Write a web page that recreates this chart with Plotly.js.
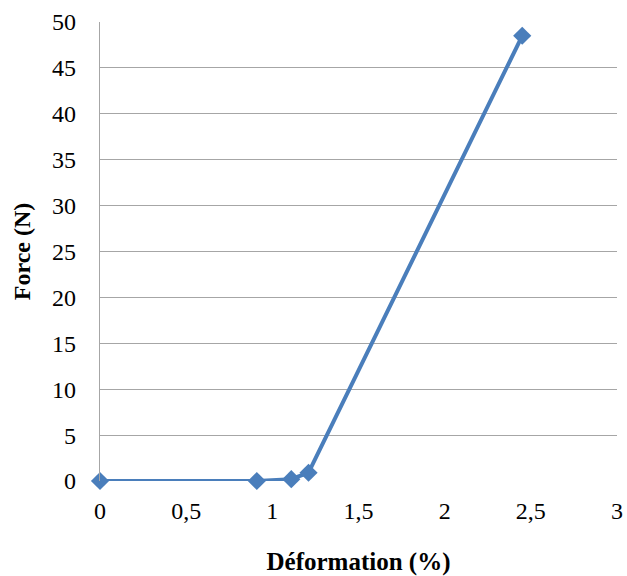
<!DOCTYPE html>
<html><head><meta charset="utf-8">
<script src="https://cdn.plot.ly/plotly-3.0.1.min.js"></script>
<style>html,body{margin:0;padding:0;background:#fff}</style>
</head><body>
<div id="chart" style="width:627px;height:576px"></div>
<script>
const deformation = [0, 0.91, 1.11, 1.21, 2.45];
const force = [0, 0, 0.2, 0.9, 48.5];
const xTicks = [0, 0.5, 1, 1.5, 2, 2.5, 3];
const xTickLabels = ['0', '0,5', '1', '1,5', '2', '2,5', '3'];
const yTicks = [0, 5, 10, 15, 20, 25, 30, 35, 40, 45, 50];

const color = '#4A7EBB';
const fam = 'Liberation Serif, Times New Roman, serif';
Plotly.newPlot('chart', [{
  x: deformation, y: force, type: 'scatter', mode: 'lines+markers',
  line: {color: color, width: 4},
  marker: {symbol: 'diamond', size: 14, color: color},
  cliponaxis: false
}], {
  width: 627, height: 576,
  margin: {l: 100, r: 10, t: 22, b: 95},
  paper_bgcolor: '#fff', plot_bgcolor: '#fff',
  showlegend: false,
  font: {family: fam, color: '#000', size: 24},
  xaxis: {
    range: [0, 3], tickvals: xTicks, ticktext: xTickLabels,
    tickfont: {family: fam, size: 24, color: '#000'},
    showgrid: false, zeroline: false, showline: false, ticks: '',
    ticklabelstandoff: 13,
    title: {text: '<b>Déformation (%)</b>', font: {family: fam, size: 25}, standoff: 31}
  },
  yaxis: {
    range: [0, 50], tickvals: yTicks,
    tickfont: {family: fam, size: 24, color: '#000'},
    showgrid: true, gridcolor: '#A6A6A6', gridwidth: 1.3,
    zeroline: false, showline: true, linecolor: '#A6A6A6', linewidth: 1.3,
    ticks: '', ticklabelstandoff: 18,
    title: {text: '<b>Force (N)</b>', font: {family: fam, size: 24}, standoff: 14}
  }
}, {displayModeBar: false});
</script>
</body></html>
